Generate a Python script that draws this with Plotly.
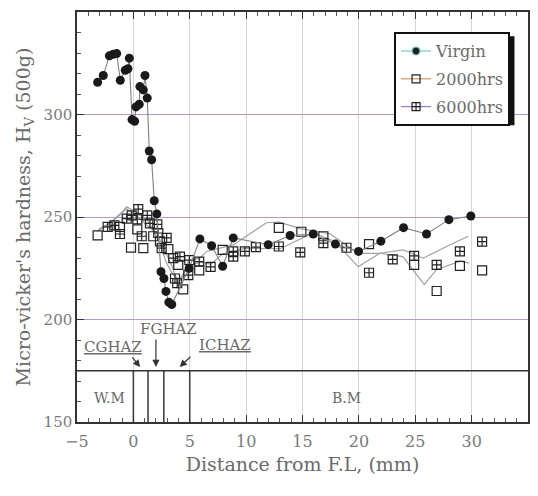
import plotly.graph_objects as go

# ---------------- data ----------------
virgin_x = [-3.17, -2.67, -2.13, -1.78, -1.48, -1.16, -0.72, -0.48, -0.36, -0.12, 0.11, 0.23,
            0.52, 0.58, 0.88, 1.03, 1.23, 1.41, 1.62, 1.85, 2.08, 2.45, 2.71, 2.89, 3.15, 3.40,
            4.95, 5.90, 6.94, 7.92, 8.86, 11.96, 13.9, 15.95, 17.92, 19.97, 21.95, 23.96,
            26.0, 27.98, 29.93]
virgin_y = [315.7, 319.0, 328.6, 329.4, 329.7, 316.7, 321.6, 322.3, 327.5, 297.5, 296.7, 303.7,
            305.0, 313.6, 312.0, 319.0, 308.0, 282.2, 277.9, 257.9, 251.5, 223.3, 220.0, 213.7,
            208.4, 207.3, 225.0, 239.3, 236.0, 226.0, 239.8, 236.5, 241.0, 241.7, 236.8, 233.2,
            238.2, 244.8, 241.7, 248.7, 250.5]

h2000_x = [-3.17, -1.19, -0.21, 0.35, 0.88, 1.76, 2.36, 3.10, 3.98, 4.42, 5.84, 7.92,
           12.9, 14.9, 16.85, 20.9, 24.9, 26.9, 28.96, 30.93]
h2000_y = [241.0, 245.2, 235.1, 244.0, 234.8, 240.6, 238.1, 234.3, 226.6, 214.7, 224.0, 234.0,
           244.7, 242.8, 240.6, 236.8, 226.6, 213.9, 226.2, 224.0]

h6000_x = [-2.28, -1.69, -1.19, -0.59, -0.15, 0.43, 0.35, 0.74, 1.23, 1.47, 2.12, 2.21,
           2.95, 2.51, 3.54, 4.13, 3.69, 3.89, 4.87, 4.96, 5.84, 6.85, 8.86, 8.86, 9.89,
           10.87, 12.9, 14.8, 16.85, 18.9, 20.9, 23.0, 24.9, 26.9, 28.96, 30.93]
h6000_y = [245.2, 245.9, 241.7, 249.2, 250.8, 253.8, 248.9, 240.6, 250.8, 246.9, 246.4, 242.2,
           239.8, 234.8, 229.9, 230.7, 220.0, 217.7, 221.6, 229.0, 228.2, 225.7, 233.2, 230.7,
           233.2, 235.3, 235.6, 232.7, 237.3, 235.0, 222.8, 229.3, 231.0, 226.6, 233.2, 238.0]

# faint trend lines as printed
trend2000_x = [-3.1, -2.1, -1.3, -0.6, 0.4, 1.3, 2.3, 2.9, 3.5, 4.2, 4.9, 5.9, 6.5, 7.8, 8.9,
               10.0, 11.8, 12.9, 14.9, 17.4, 19.9, 21.9, 23.9, 25.8, 26.9, 29.0, 29.8]
trend2000_y = [244.0, 247.0, 250.5, 255.0, 252.0, 248.0, 238.0, 228.0, 222.0, 219.0, 228.7, 229.9,
               233.2, 234.8, 236.5, 240.6, 247.2, 247.5, 244.2, 241.9, 232.3, 232.3, 230.7, 217.0,
               224.4, 228.5, 227.5]
trend6000_x = [-3.2, -2.3, -1.5, -0.6, 0.4, 1.2, 2.1, 2.9, 3.5, 3.9, 4.4, 4.9, 5.9, 6.9, 7.9,
               8.9, 9.9, 13.0, 15.95, 17.87, 19.94, 21.86, 23.93, 25.7, 27.77, 29.7]
trend6000_y = [243.0, 246.0, 250.0, 254.0, 250.0, 246.0, 242.0, 232.0, 225.0, 218.0, 222.0, 226.0,
               228.0, 227.0, 232.0, 233.0, 234.8, 234.5, 242.2, 238.1, 225.7, 232.3, 234.0, 229.9,
               235.6, 240.6]

zone_bounds = [0.0, 1.3, 2.7, 5.0]
zone_level = 175
series_names = ["Virgin", "2000hrs", "6000hrs"]
x_ticks = [-5, 0, 5, 10, 15, 20, 25, 30, 35]
y_ticks = [150, 200, 250, 300, 350]

FONT = "DejaVu Serif"
TXT = "#6a6a6a"
INK = "#222222"

fig = go.Figure()

# zone boundary lines
zx, zy = [], []
for b in zone_bounds:
    zx += [b, b, None]
    zy += [150, zone_level, None]
fig.add_trace(go.Scatter(x=zx, y=zy, mode="lines", line=dict(color="#444", width=1.6),
                         showlegend=False, hoverinfo="skip"))
fig.add_trace(go.Scatter(x=[-5, 35], y=[zone_level, zone_level], mode="lines",
                         line=dict(color="#333", width=1.6), showlegend=False, hoverinfo="skip"))

# trend lines
fig.add_trace(go.Scatter(x=trend2000_x, y=trend2000_y, mode="lines",
                         line=dict(color="#a0a0a0", width=1.2), showlegend=False))
fig.add_trace(go.Scatter(x=trend6000_x, y=trend6000_y, mode="lines",
                         line=dict(color="#a0a0a0", width=1.2), showlegend=False))

# markers
fig.add_trace(go.Scatter(x=h2000_x, y=h2000_y, mode="markers", showlegend=False,
                         marker=dict(symbol="square-open", size=9, color=INK, line=dict(width=1.2))))
fig.add_trace(go.Scatter(x=h6000_x, y=h6000_y, mode="markers", showlegend=False,
                         marker=dict(symbol="square-cross-open", size=9, color=INK, line=dict(width=1.2))))
fig.add_trace(go.Scatter(x=virgin_x, y=virgin_y, mode="lines+markers", showlegend=False,
                         line=dict(color="#808080", width=1.1),
                         marker=dict(symbol="circle", size=9, color="#1a1a1a")))

# legend entries
leg_styles = [("circle", "#7fcfd4"), ("square-open", "#d4a070"), ("square-cross-open", "#a07fc8")]
for i, (nm, (sym, lc)) in enumerate(zip(series_names, leg_styles)):
    fig.add_trace(go.Scatter(x=[None], y=[None], mode="lines+markers", name=nm,
                             legendgroup=nm,
                             line=dict(color=lc, width=1.3),
                             marker=dict(symbol=sym, size=8, color=INK, line=dict(width=1.2))))

# annotations
ann_font = dict(family=FONT, size=15, color=TXT)
annotations = [
    dict(x=-2.1, y=161.5, text="W.M", showarrow=False, font=dict(family=FONT, size=14, color=TXT)),
    dict(x=18.9, y=161.5, text="B.M", showarrow=False, font=dict(family=FONT, size=14, color=TXT)),
    dict(x=-1.8, y=186.8, text="<u>CGHAZ</u>", showarrow=False, font=ann_font),
    dict(x=3.1, y=195.2, text="FGHAZ", showarrow=False, font=ann_font),
    dict(x=8.1, y=187.6, text="<u>ICHAZ</u>", showarrow=False, font=ann_font),
    dict(x=0.6, y=176.8, ax=-0.2, ay=182.3, axref="x", ayref="y", text="", showarrow=True,
         arrowhead=2, arrowsize=1.2, arrowwidth=1.2, arrowcolor="#333"),
    dict(x=2.0, y=176.8, ax=2.0, ay=191.0, axref="x", ayref="y", text="", showarrow=True,
         arrowhead=2, arrowsize=1.2, arrowwidth=1.2, arrowcolor="#333"),
    dict(x=4.1, y=176.8, ax=5.2, ay=182.5, axref="x", ayref="y", text="", showarrow=True,
         arrowhead=2, arrowsize=1.2, arrowwidth=1.2, arrowcolor="#333"),
]

fig.update_layout(
    width=530, height=488,
    margin=dict(l=69, r=10, t=4, b=74, autoexpand=False),
    paper_bgcolor="white", plot_bgcolor="white",
    font=dict(family=FONT, color=TXT),
    annotations=annotations,
    legend=dict(x=0.703, y=0.951, xanchor="left", yanchor="top",
                bgcolor="white", bordercolor="#111", borderwidth=2,
                font=dict(family=FONT, size=16, color=TXT),
                traceorder="grouped", tracegroupgap=4),
    shapes=[dict(type="rect", xref="paper", yref="paper", x0=0.712, x1=0.970, y0=0.724, y1=0.941,
                 fillcolor="#111", line=dict(width=0), layer="above")],
)

fig.update_xaxes(range=[-5, 35], tickvals=x_ticks, showgrid=True, gridcolor="#d6d6d6", gridwidth=1,
                 zeroline=False, showline=True, linecolor="#333", linewidth=1.5, mirror="allticks",
                 ticks="inside", ticklen=7, tickcolor="#333", automargin=False,
                 ticklabelstandoff=4,
                 minor=dict(dtick=1, ticks="inside", ticklen=4, tickcolor="#555", showgrid=False),
                 tickfont=dict(family=FONT, size=16, color="#7a7a7a"),
                 title=dict(text="Distance from F.L, (mm)", standoff=8,
                            font=dict(family=FONT, size=19, color=TXT)))
fig.update_yaxes(range=[150, 350], tickvals=y_ticks, showgrid=True, gridcolor="#b49ac8", gridwidth=1,
                 zeroline=False, showline=True, linecolor="#333", linewidth=1.5, mirror=True,
                 ticks="inside", ticklen=7, tickcolor="#333", automargin=False,
                 minor=dict(dtick=10, ticks="inside", ticklen=4, tickcolor="#555", showgrid=False),
                 tickfont=dict(family=FONT, size=15, color="#7a7a7a"),
                 title=dict(text="Micro-vicker's hardness, H<sub>V</sub> (500g)", standoff=8,
                            font=dict(family=FONT, size=19, color=TXT)))

fig.write_html("out.html")
